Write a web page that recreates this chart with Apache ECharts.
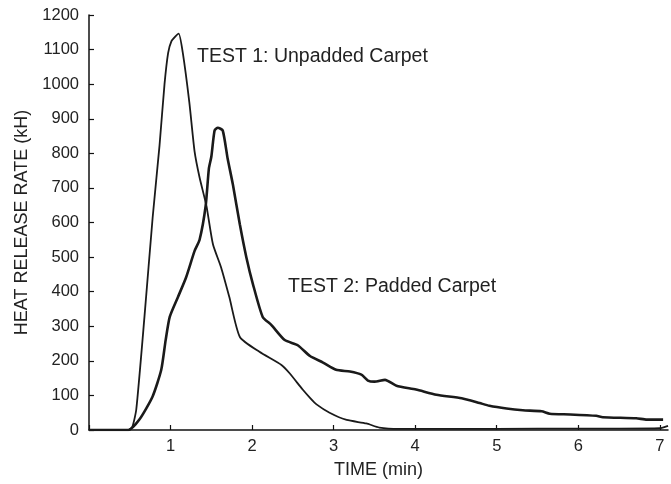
<!DOCTYPE html>
<html>
<head>
<meta charset="utf-8">
<script src="https://cdn.jsdelivr.net/npm/echarts@6/dist/echarts.min.js"></script>
<style>
html,body{margin:0;padding:0;background:#fff;}
#chart{width:671px;height:484px;}
</style>
</head>
<body>
<div id="chart"></div>
<script>
// Test 1: Unpadded Carpet
var time1 = [0, 0.48, 0.53, 0.58, 0.68, 0.78, 0.865, 0.926, 0.97, 1.01, 1.06, 1.10, 1.15, 1.23, 1.295, 1.356, 1.44, 1.52, 1.62, 1.72, 1.85, 2.09, 2.36, 2.46, 2.62, 2.71, 2.79, 2.95, 3.16, 3.40, 3.56, 3.8, 4.5, 5.5, 6.5, 7.0, 7.1];
var hrr1  = [0, 0, 8, 60, 327, 613, 823, 1000, 1090, 1124, 1138, 1146, 1091, 948, 805, 730, 648, 537, 470, 385, 269, 226, 188, 164, 117, 93, 74, 50, 29, 19, 7, 3, 3, 4, 4, 5, 12];
// Test 2: Padded Carpet
var time2 = [0, 0.48, 0.62, 0.78, 0.886, 0.94, 0.99, 1.09, 1.19, 1.295, 1.356, 1.43, 1.47, 1.50, 1.54, 1.58, 1.64, 1.70, 1.765, 1.85, 1.93, 2.01, 2.13, 2.235, 2.40, 2.56, 2.71, 2.87, 3.03, 3.20, 3.34, 3.42, 3.50, 3.63, 3.77, 4.01, 4.26, 4.57, 4.79, 4.91, 5.12, 5.32, 5.55, 5.65, 5.9, 6.22, 6.3, 6.71, 6.84, 7.04];
var hrr2  = [0, 0, 31, 97, 174, 260, 327, 384, 441, 518, 550, 647, 756, 790, 866, 874, 866, 785, 709, 594, 499, 422, 327, 304, 260, 245, 214, 195, 174, 169, 160, 143, 140, 145, 128, 117, 102, 92, 78, 70, 62, 57, 54, 47, 45, 41, 37, 34, 30, 30];
var seriesNames = ['TEST 1: Unpadded Carpet', 'TEST 2: Padded Carpet'];
var xTitle = 'TIME (min)';
var yTitle = 'HEAT RELEASE RATE (kH)';

function pairs(t, v){ return t.map(function(x,i){ return [x, v[i]]; }); }

var FONT = '"Liberation Sans", Arial, Helvetica, sans-serif';
var chart = echarts.init(document.getElementById('chart'), null, {renderer:'canvas'});
chart.setOption({
  animation: false,
  backgroundColor: '#ffffff',
  grid: { left: 89, right: 3, top: 15, bottom: 50, containLabel: false },
  xAxis: {
    type: 'value', min: 0, max: 7.1, interval: 1,
    name: xTitle, nameLocation: 'middle', nameGap: 31,
    nameTextStyle: { fontFamily: FONT, fontSize: 18, color: '#222' },
    axisLine: { show: true, lineStyle: { color: '#111', width: 1.5 } },
    axisTick: { show: true, inside: true, length: 5, lineStyle: { color: '#111', width: 1.2 } },
    axisLabel: { fontFamily: FONT, fontSize: 16.5, color: '#222', margin: 8, showMaxLabel: false,
      formatter: function(v){ return (v > 0 && Math.abs(v - Math.round(v)) < 1e-6) ? String(Math.round(v)) : ''; } },
    splitLine: { show: false }
  },
  yAxis: {
    type: 'value', min: 0, max: 1200, interval: 100,
    name: yTitle, nameLocation: 'middle', nameGap: 56, nameRotate: 90,
    nameTextStyle: { fontFamily: FONT, fontSize: 18, color: '#222' },
    axisLine: { show: true, lineStyle: { color: '#111', width: 1.5 } },
    axisTick: { show: true, inside: true, length: 5, lineStyle: { color: '#111', width: 1.2 } },
    axisLabel: { fontFamily: FONT, fontSize: 16.5, color: '#222', margin: 10,
      formatter: function(v){ return String(v); } },
    splitLine: { show: false }
  },
  series: [
    { name: seriesNames[0], type: 'line', data: pairs(time1, hrr1), showSymbol: false, smooth: 0.2,
      lineStyle: { color: '#1a1a1a', width: 1.8 }, z: 3 },
    { name: seriesNames[1], type: 'line', data: pairs(time2, hrr2), showSymbol: false, smooth: 0.2,
      lineStyle: { color: '#1a1a1a', width: 2.6 }, z: 2 }
  ],
  graphic: [
    { type: 'text', left: 197, top: 47, style: { text: seriesNames[0], fontFamily: FONT, fontSize: 19.5, fill: '#222' } },
    { type: 'text', left: 288, top: 277, style: { text: seriesNames[1], fontFamily: FONT, fontSize: 19.5, fill: '#222' } }
  ]
});
</script>
</body>
</html>
